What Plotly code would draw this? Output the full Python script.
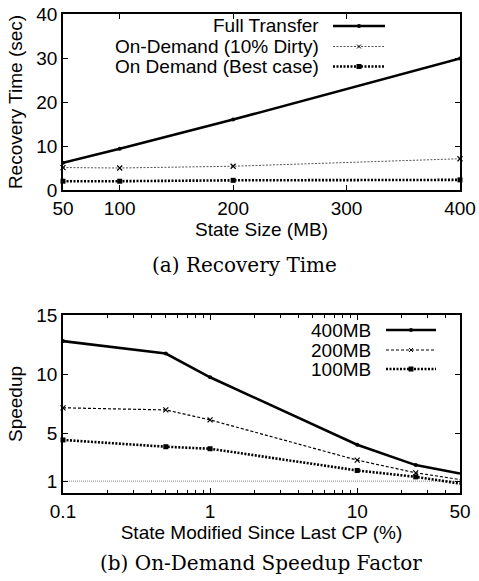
import plotly.graph_objects as go

# ---------------- data ----------------
state_size_mb = [50, 100, 200, 400]
full_transfer = [6.2, 9.4, 16.0, 29.9]
on_demand_dirty10 = [5.1, 5.0, 5.4, 7.1]
on_demand_best = [2.0, 2.0, 2.2, 2.3]

pct_modified = [0.1, 0.5, 1, 10, 25, 50]
speedup_400 = [12.8, 11.75, 9.75, 4.07, 2.35, 1.64]
speedup_200 = [7.18, 7.0, 6.16, 2.77, 1.7, 1.13]
speedup_100 = [4.47, 3.9, 3.73, 1.9, 1.36, 0.8]
baseline_speedup = 1

x1_ticks = [50, 100, 200, 300, 400]
y1_ticks = [0, 10, 20, 30, 40]
x2_ticks = [0.1, 1, 10, 50]
x2_ticklabels = ["0.1", "1", "10", "50"]
x2_minor = [0.2, 0.3, 0.4, 0.5, 0.6, 0.7, 0.8, 0.9,
            2, 3, 4, 5, 6, 7, 8, 9, 20, 30, 40]
y2_ticks = [1, 5, 10, 15]

W, H = 479, 581
SANS = "Liberation Sans, Arial, sans-serif"
SERIF = "DejaVu Serif, serif"
FS = 19

fig = go.Figure()

# styles
st_full = dict(color="black", width=2.6)
st_dirty = dict(color="#555555", width=1, dash="2px,1.5px")
st_best = dict(color="black", width=2.6, dash="2px,1.5px")
st_400 = dict(color="black", width=2.6)
st_200 = dict(color="black", width=1.2, dash="3px,2px")
st_100 = dict(color="black", width=2.6, dash="2px,1.5px")

fig.add_trace(go.Scatter(x=state_size_mb, y=full_transfer, mode="lines+markers",
                         line=st_full, marker=dict(symbol="circle", size=4, color="black"),
                         xaxis="x", yaxis="y", showlegend=False, cliponaxis=False))
fig.add_trace(go.Scatter(x=state_size_mb, y=on_demand_dirty10, mode="lines+markers",
                         line=st_dirty, marker=dict(symbol="x-thin", size=5,
                                                    line=dict(color="black", width=1.2)),
                         xaxis="x", yaxis="y", showlegend=False, cliponaxis=False))
fig.add_trace(go.Scatter(x=state_size_mb, y=on_demand_best, mode="lines+markers",
                         line=st_best, marker=dict(symbol="square", size=5, color="black"),
                         xaxis="x", yaxis="y", showlegend=False, cliponaxis=False))

fig.add_trace(go.Scatter(x=pct_modified, y=speedup_400, mode="lines+markers",
                         line=st_400, marker=dict(symbol="circle", size=4, color="black"),
                         xaxis="x2", yaxis="y2", showlegend=False, cliponaxis=False))
fig.add_trace(go.Scatter(x=pct_modified, y=speedup_200, mode="lines+markers",
                         line=st_200, marker=dict(symbol="x-thin", size=5,
                                                  line=dict(color="black", width=1.2)),
                         xaxis="x2", yaxis="y2", showlegend=False, cliponaxis=False))
fig.add_trace(go.Scatter(x=pct_modified, y=speedup_100, mode="lines+markers",
                         line=st_100, marker=dict(symbol="square", size=5, color="black"),
                         xaxis="x2", yaxis="y2", showlegend=False, cliponaxis=False))

# baseline
fig.add_shape(type="line", xref="x2 domain", yref="y2", x0=0, x1=1,
              y0=baseline_speedup, y1=baseline_speedup,
              line=dict(color="#888888", width=1, dash="1px,1px"), layer="below")

# domains (pixel based)
L, R = 63 / W, 460 / W
top1, bot1 = 14, 190
top2, bot2 = 315, 493

axis_common = dict(showline=True, linecolor="black", linewidth=1.5, mirror="ticks",
                   ticks="inside", ticklen=5, tickcolor="black", tickwidth=1,
                   showgrid=False, zeroline=False, automargin=False,
                   tickfont=dict(family=SANS, size=FS, color="black"))

fig.update_layout(
    width=W, height=H, margin=dict(l=0, r=0, t=0, b=0),
    plot_bgcolor="white", paper_bgcolor="white",
    xaxis=dict(domain=[L, R], anchor="y", range=[50, 400], tickvals=x1_ticks,
               title=dict(text="State Size (MB)", font=dict(family=SANS, size=FS, color="black"),
                          standoff=2),
               **axis_common),
    yaxis=dict(domain=[1 - bot1 / H, 1 - top1 / H], anchor="x", range=[0, 40], tickvals=y1_ticks,
               title=dict(text="Recovery Time (sec)", font=dict(family=SANS, size=FS, color="black"),
                          standoff=9),
               **axis_common),
    xaxis2=dict(domain=[L, R], anchor="y2", type="log", range=[-1, 1.69897],
                tickvals=x2_ticks, ticktext=x2_ticklabels,
                minor=dict(tickvals=x2_minor, ticks="inside", ticklen=3, tickcolor="black"),
                title=dict(text="State Modified Since Last CP (%)",
                           font=dict(family=SANS, size=FS, color="black"), standoff=4),
                **axis_common),
    yaxis2=dict(domain=[1 - bot2 / H, 1 - top2 / H], anchor="x2", range=[0, 15], tickvals=y2_ticks,
                title=dict(text="Speedup", font=dict(family=SANS, size=FS, color="black"),
                           standoff=9),
                **axis_common),
)

# captions
fig.add_annotation(text="(a) Recovery Time", xref="paper", yref="paper",
                   x=244 / W, y=1 - 265 / H, xanchor="center", yanchor="middle",
                   showarrow=False, font=dict(family=SERIF, size=20, color="black"))
fig.add_annotation(text="(b) On-Demand Speedup Factor", xref="paper", yref="paper",
                   x=261 / W, y=1 - 563 / H, xanchor="center", yanchor="middle",
                   showarrow=False, font=dict(family=SERIF, size=20, color="black"))


# gnuplot-style legends (text left, sample right)
def legend_entry(label, style, marker, text_right, x0, x1, ypix):
    yp = 1 - ypix / H
    fig.add_annotation(text=label, xref="paper", yref="paper", x=text_right / W, y=yp,
                       xanchor="right", yanchor="middle", showarrow=False,
                       font=dict(family=SANS, size=FS, color="black"))
    fig.add_shape(type="line", xref="paper", yref="paper", x0=x0 / W, x1=x1 / W, y0=yp, y1=yp,
                  line=style)
    xc = (x0 + x1) / 2
    r = 2
    if marker == "circle":
        fig.add_shape(type="circle", xref="paper", yref="paper",
                      x0=(xc - r) / W, x1=(xc + r) / W, y0=yp - r / H, y1=yp + r / H,
                      fillcolor="black", line=dict(color="black", width=0))
    elif marker == "square":
        fig.add_shape(type="rect", xref="paper", yref="paper",
                      x0=(xc - r - 0.5) / W, x1=(xc + r + 0.5) / W,
                      y0=yp - (r + 0.5) / H, y1=yp + (r + 0.5) / H,
                      fillcolor="black", line=dict(color="black", width=0))
    else:
        for s in (1, -1):
            fig.add_shape(type="line", xref="paper", yref="paper",
                          x0=(xc - r) / W, x1=(xc + r) / W,
                          y0=yp - s * r / H, y1=yp + s * r / H,
                          line=dict(color="black", width=1))


legend_entry("Full Transfer", st_full, "circle", 321, 333, 385, 26)
legend_entry("On-Demand (10% Dirty)", st_dirty, "x", 321, 333, 385, 46.5)
legend_entry("On Demand (Best case)", st_best, "square", 321, 333, 385, 66.5)

legend_entry("400MB", st_400, "circle", 373, 386, 436, 330)
legend_entry("200MB", st_200, "x", 373, 386, 436, 350)
legend_entry("100MB", st_100, "square", 373, 386, 436, 369)

fig.write_html("out.html", config={"displayModeBar": False},
               post_script="document.body.style.margin='0';document.body.style.overflow='hidden';")
